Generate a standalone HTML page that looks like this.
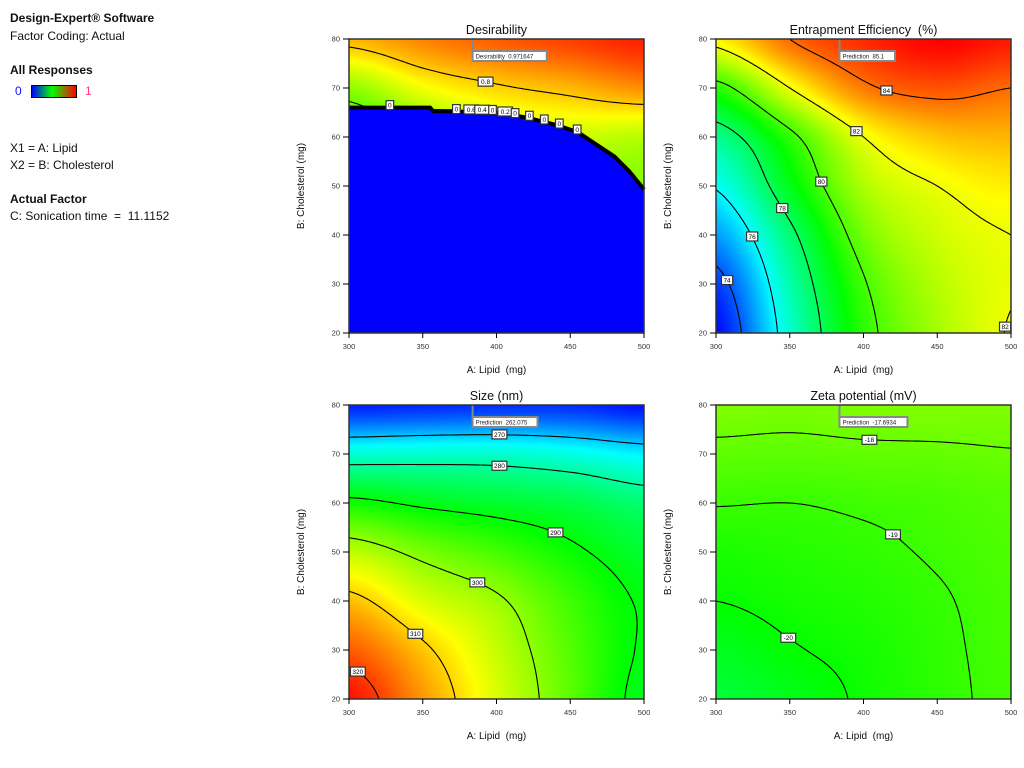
<!DOCTYPE html>
<html><head><meta charset="utf-8">
<style>
body{margin:0;width:1024px;height:768px;background:#fff;position:relative;overflow:hidden;font-family:"Liberation Sans",sans-serif;}
canvas{position:absolute;}
svg{position:absolute;left:0;top:0;}
svg text{white-space:pre;}
.info{position:absolute;left:10px;font-size:12px;color:#111;white-space:nowrap;}
.b{font-weight:bold;}
</style></head><body>
<div class="info b" style="top:11px">Design-Expert® Software</div>
<div class="info" style="top:29px">Factor Coding: Actual</div>
<div class="info b" style="top:63px">All Responses</div>
<div class="info" style="left:15px;top:84px;color:#1010ff">0</div>
<div style="position:absolute;left:31px;top:85px;width:44px;height:11px;border:1px solid #000;background:linear-gradient(to right,#0000ff,#00ff00 45%,#ff0000)"></div>
<div class="info" style="left:85px;top:84px;color:#ff3c8c">1</div>
<div class="info" style="top:141px">X1 = A: Lipid</div>
<div class="info" style="top:158px">X2 = B: Cholesterol</div>
<div class="info b" style="top:192px">Actual Factor</div>
<div class="info" style="top:209px">C: Sonication time&nbsp; = &nbsp;11.1152</div>
<svg id="ov" width="1024" height="768"></svg>
<script>
var lipidTicks=[300,350,400,450,500];
var cholTicks=[20,30,40,50,60,70,80];
// grid values: rows = lipid 300..500, cols = cholesterol 20..80
var desirValues=[[0.45,0.45,0.45,0.5,0.52,0.64,0.82],[0.55,0.55,0.55,0.58,0.6,0.74,0.87],[0.58,0.58,0.58,0.6,0.68,0.79,0.91],[0.6,0.6,0.6,0.63,0.7,0.82,0.94],[0.6,0.6,0.6,0.63,0.68,0.86,0.97]];
var boundaryX=[300,355,357,400,420,440,455,470,480,490,500];
var boundaryY=[66,66,65.3,65,64,62.5,61,58,56,53,49.3];
var eeValues=[[73,73.6,74.8,76.1,77.4,79.6,82.3],[76.6,77,77.7,78.8,79.7,82,84],[79.6,79.9,80.5,81.2,82,83.8,84.8],[81.1,81.3,81.6,82,82.9,84.3,85.3],[82.05,81.95,82,82.4,83.1,84,85]];
var sizeValues=[[323,318,311.5,303,291.5,276.5,259],[314,311,305,298.5,289,277,259.5],[305,303.5,300.8,295,287.5,277,260],[296.5,296,294.5,291,286,275.5,260],[288.5,289.5,289.5,287.5,283,273,258]];
var zetaValues=[[-21.2,-20.7,-20,-19.6,-18.95,-18.25,-17.6],[-20.6,-20.1,-19.7,-19.4,-19,-18.3,-17.7],[-19.85,-19.7,-19.45,-19.2,-18.85,-18.2,-17.6],[-19.25,-19.2,-19.1,-18.9,-18.7,-18.15,-17.6],[-18.8,-18.75,-18.7,-18.6,-18.45,-18.05,-17.65]];
var desirLevels=[0.2,0.4,0.6,0.8];
var eeLevels=[74,76,78,80,82,84];
var sizeLevels=[270,280,290,300,310,320];
var zetaLevels=[-20,-19,-18];
var desirLabelLevels=[0.8], desirLabelX=[392.6];
var desirEdgeText=["0","0","0.6","0.4","0","0.2","0","0","0","0","0"];
var desirEdgeX=[327.7,372.8,382.9,390.3,397.3,405.9,412.6,422.3,432.4,442.6,454.7];
var eeLabelLevels=[84,82,80,78,76,74,82], eeLabelX=[415.6,395.2,371.4,344.9,324.5,307.5,496];
var sizeLabelLevels=[270,280,290,300,310,320], sizeLabelX=[402,402,440,387,345,306];
var zetaLabelLevels=[-20,-19,-18], zetaLabelX=[349,420,404];
var predictions=["Desirability  0.971647","Prediction  85.1","Prediction  262.075","Prediction  -17.6934"];
var predLipid=[383.8,383.7,383.8,383.7];

var NS="http://www.w3.org/2000/svg";
var ov=document.getElementById('ov');
function mk(tag,attrs,parent){var e=document.createElementNS(NS,tag);for(var k in attrs)e.setAttribute(k,attrs[k]);(parent||ov).appendChild(e);return e;}
function cr(p0,p1,p2,p3,t){return 0.5*(2*p1+(-p0+p2)*t+(2*p0-5*p1+4*p2-p3)*t*t+(-p0+3*p1-3*p2+p3)*t*t*t);}
function cl(v,a,b){return v<a?a:(v>b?b:v);}
function interp(vals,x,y){
  var gx=(x-300)/50, gy=(y-20)/10;
  var i=cl(Math.floor(gx),0,3), j=cl(Math.floor(gy),0,5);
  var tx=gx-i, ty=gy-j;
  function gv(a,b){return vals[cl(a,0,4)][cl(b,0,6)];}
  var col=[];
  for(var m=-1;m<=2;m++)col.push(cr(gv(i+m,j-1),gv(i+m,j),gv(i+m,j+1),gv(i+m,j+2),ty));
  return cr(col[0],col[1],col[2],col[3],tx);
}
function boundary(x){for(var k=0;k<boundaryX.length-1;k++){if(x<=boundaryX[k+1]){var t=(x-boundaryX[k])/(boundaryX[k+1]-boundaryX[k]);return boundaryY[k]+t*(boundaryY[k+1]-boundaryY[k]);}}return boundaryY[boundaryY.length-1];}
var stops=[[0,0,255],[0,255,255],[0,255,0],[255,255,0],[255,0,0]];
function cmap(t){t=cl(t,0,1)*4;var k=Math.min(3,Math.floor(t)),f=t-k;return [0,1,2].map(function(i){return Math.round(stops[k][i]+(stops[k+1][i]-stops[k][i])*f);});}

var plots=[
 {name:'desirability',title:'Desirability',L:349,T:39,vals:desirValues,vmin:0,vmax:1,levels:desirLevels,lab:desirLabelLevels,labX:desirLabelX,bnd:true,pred:0},
 {name:'entrapment-efficiency',title:'Entrapment Efficiency  (%)',L:716,T:39,vals:eeValues,vmin:72.9,vmax:85.3,levels:eeLevels,lab:eeLabelLevels,labX:eeLabelX,bnd:false,pred:1},
 {name:'size',title:'Size (nm)',L:349,T:405,vals:sizeValues,vmin:257,vmax:324,levels:sizeLevels,lab:sizeLabelLevels,labX:sizeLabelX,bnd:false,pred:2},
 {name:'zeta-potential',title:'Zeta potential (mV)',L:716,T:405,vals:zetaValues,vmin:-30.1,vmax:-10.1,levels:zetaLevels,lab:zetaLabelLevels,labX:zetaLabelX,bnd:false,pred:3}
];
var W=295,H=294;
function drawPlot(p){
  function f(x,y){if(p.bnd&&y<boundary(x))return 0;return interp(p.vals,x,y);}
  function px(x){return p.L+(x-300)/200*W;}
  function py(y){return p.T+(80-y)/60*H;}
  var cv=document.createElement('canvas');cv.width=W;cv.height=H;cv.style.left=p.L+'px';cv.style.top=p.T+'px';
  
  
  document.body.insertBefore(cv,ov);
  var ctx=cv.getContext('2d');var im=ctx.createImageData(W,H);
  for(var r=0;r<H;r++)for(var c=0;c<W;c++){
    var x=300+(c+0.5)/W*200,y=80-(r+0.5)/H*60;
    var col=cmap((f(x,y)-p.vmin)/(p.vmax-p.vmin));var o=(r*W+c)*4;
    im.data[o]=col[0];im.data[o+1]=col[1];im.data[o+2]=col[2];im.data[o+3]=255;}
  ctx.putImageData(im,0,0);
  var g=mk('g',{});
  
  
  var N=150,M=150;var S=[];
  for(var i=0;i<=N;i++){S.push([]);for(var j=0;j<=M;j++)S[i].push(f(300+200*i/N,20+60*j/M));}
  function X(q){return px(300+200*q[0]/N).toFixed(1);}
  function Y(q){return py(20+60*q[1]/M).toFixed(1);}
  p.levels.forEach(function(lv){
    var d='';
    for(var i=0;i<N;i++)for(var j=0;j<M;j++){
      var v=[S[i][j],S[i+1][j],S[i+1][j+1],S[i][j+1]];
      var P=[[i,j],[i+1,j],[i+1,j+1],[i,j+1]];
      var pts=[];
      for(var e=0;e<4;e++){var a=v[e],b=v[(e+1)%4];if((a>lv)!==(b>lv)){var t=(lv-a)/(b-a);var A=P[e],B=P[(e+1)%4];pts.push([A[0]+(B[0]-A[0])*t,A[1]+(B[1]-A[1])*t]);}}
      for(var k=0;k+1<pts.length;k+=2){
        d+='M'+X(pts[k])+' '+Y(pts[k])+'L'+X(pts[k+1])+' '+Y(pts[k+1]);}
    }
    if(!d)return;
    var path=mk('path',{d:d,stroke:'#000','stroke-width':1.1,fill:'none'},g);
    
    
  });
  if(p.bnd){
    var pl=mk('polyline',{points:boundaryX.map(function(x,k){return px(x)+','+py(boundaryY[k]);}).join(' '),stroke:'#000','stroke-width':4,fill:'none'},g);
    
    
  }
  function label(txt,x,y){
    var lg=mk('g',{},g);
    
    
    var w=txt.length*3.6+4;
    mk('rect',{x:x-w/2,y:y-4.5,width:w,height:9,fill:'#fff',stroke:'#333','stroke-width':1.2},lg);
    var t=mk('text',{x:x,y:y+2.4,'font-size':6.5,'text-anchor':'middle',fill:'#000'},lg);t.textContent=txt;
  }
  p.lab.forEach(function(lv,k){var x=p.labX[k];var prev=f(x,20);
    for(var y=20.1;y<=80;y+=0.1){var v=f(x,y);if((v>lv)!==(prev>lv)){label(String(lv),px(x),py(y));break;}prev=v;}});
  if(p.bnd){desirEdgeX.forEach(function(x,k){label(desirEdgeText[k],px(x),py(boundary(x)+0.5));});}
  var fx=px(predLipid[p.pred]);
  mk('line',{x1:fx,y1:p.T,x2:fx,y2:p.T+13,stroke:'#888','stroke-width':2},g);
  var pw=predictions[p.pred].length*3.1+6;
  var fr=mk('rect',{x:fx,y:p.T+12,width:pw,height:10,fill:'#fff',stroke:'#888','stroke-width':2},g);
  
  
  var ft=mk('text',{x:fx+3,y:p.T+19.5,'font-size':6,fill:'#222'},g);ft.textContent=predictions[p.pred];
  mk('rect',{x:p.L,y:p.T,width:W,height:H,fill:'none',stroke:'#333','stroke-width':1.5},g);
  lipidTicks.forEach(function(v){mk('line',{x1:px(v),y1:p.T+H,x2:px(v),y2:p.T+H+5,stroke:'#000'},g);
    var t=mk('text',{x:px(v),y:p.T+H+16,'font-size':7.5,'text-anchor':'middle',fill:'#333'},g);t.textContent=String(v);});
  cholTicks.forEach(function(v){mk('line',{x1:p.L-6,y1:py(v),x2:p.L,y2:py(v),stroke:'#000'},g);
    var t=mk('text',{x:p.L-9,y:py(v)+2.5,'font-size':7.5,'text-anchor':'end',fill:'#333'},g);t.textContent=String(v);});
  var tt=mk('text',{x:p.L+W/2,y:p.T-5,'font-size':12.5,'text-anchor':'middle',fill:'#111'},g);tt.textContent=p.title;
  
  
  var xt=mk('text',{x:p.L+W/2,y:p.T+H+40,'font-size':10,'text-anchor':'middle',fill:'#111'},g);xt.textContent='A: Lipid  (mg)';
  
  
  var yt=mk('text',{x:0,y:0,'font-size':10,'text-anchor':'middle',fill:'#111',transform:'translate('+(p.L-45)+','+(p.T+H/2)+') rotate(-90)'},g);yt.textContent='B: Cholesterol (mg)';
  
  
}
plots.forEach(function(p){try{drawPlot(p);}catch(err){console.log(err);}});
</script>
</body></html>
